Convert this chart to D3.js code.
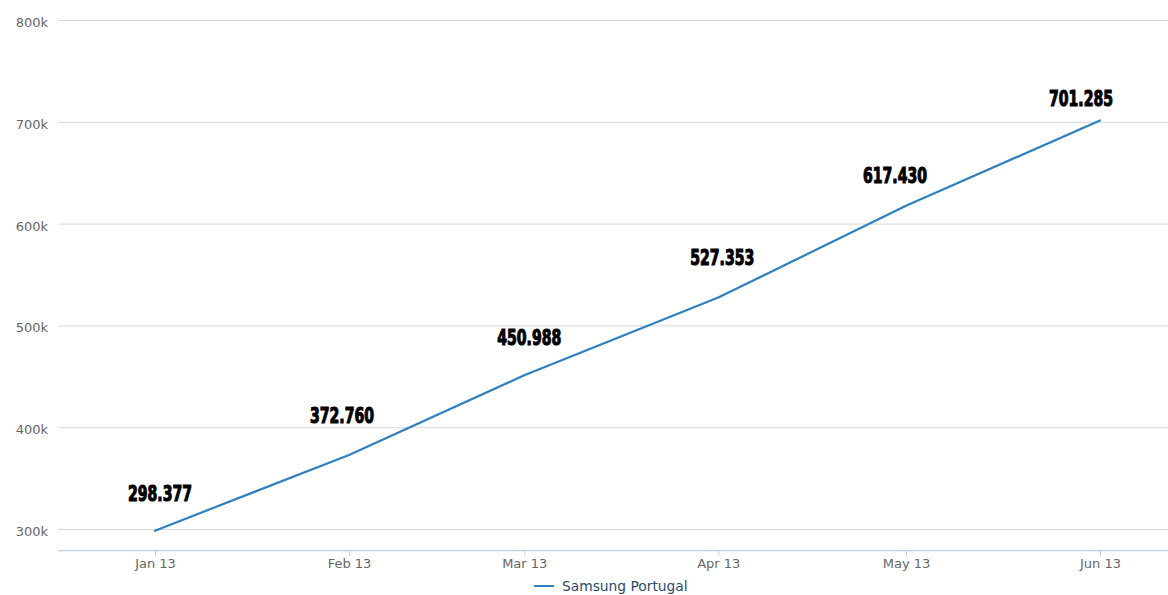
<!DOCTYPE html>
<html>
<head>
<meta charset="utf-8">
<script src="https://cdn.jsdelivr.net/npm/d3@7/dist/d3.min.js"></script>
<style>
  html, body { margin: 0; padding: 0; background: #fff; }
  svg { display: block; }
</style>
</head>
<body>
<svg id="chart" width="1168" height="595"></svg>
<script>
// Monthly totals, Samsung Portugal, first half of 2013
const months = ["2013-01-01", "2013-02-01", "2013-03-01", "2013-04-01", "2013-05-01", "2013-06-01"];
const values = [298377, 372760, 450988, 527353, 617430, 701285];
const valueLabels = ["298.377", "372.760", "450.988", "527.353", "617.430", "701.285"];
const yTicks = [300000, 400000, 500000, 600000, 700000, 800000];
const seriesName = "Samsung Portugal";

// label placement nudges (px) relative to each point
const labelDx = [5, -7, 5, 4, -11, -19];
const labelDy = [-37, -40, -38, -40, -30, -22];

const parse = d3.utcParse("%Y-%m-%d");
const dates = months.map(parse);
const points = dates.map((d, i) => ({ date: d, value: values[i], label: valueLabels[i], i }));

const svg = d3.select("#chart");
const plotLeft = 58, plotRight = 1168, plotTop = 20, plotBottom = 550.7;

const x = d3.scaleUtc()
  .domain([dates[0], dates[dates.length - 1]])
  .range([155, 1100]);

const y = d3.scaleLinear()
  .domain([278700, 800000])
  .range([plotBottom, plotTop]);

const lineColor = "#2f80bf";

// horizontal grid + y labels
const yAxis = d3.axisLeft(y)
  .tickValues(yTicks)
  .tickSize(-(plotRight - plotLeft))
  .tickPadding(10)
  .tickFormat(d => (d / 1000) + "k");

const gy = svg.append("g")
  .attr("transform", `translate(${plotLeft},0)`)
  .call(yAxis);
gy.select(".domain").remove();
gy.selectAll(".tick line").attr("stroke", "#d8d8d8").attr("stroke-width", 1);
gy.selectAll(".tick text")
  .attr("fill", "#666")
  .attr("font-family", "DejaVu Sans, sans-serif")
  .attr("font-size", 13)
  .attr("dy", "0.5em")
  .attr("x", -10);

// x axis
const xAxis = d3.axisBottom(x)
  .tickValues(dates)
  .tickSize(5)
  .tickPadding(3)
  .tickFormat(d3.utcFormat("%b %y"));

const gx = svg.append("g")
  .attr("transform", `translate(0,${plotBottom})`)
  .call(xAxis);
gx.select(".domain").remove();
gx.append("line")
  .attr("x1", plotLeft).attr("x2", plotRight)
  .attr("stroke", "#c0d0e0").attr("stroke-width", 1.2);
gx.selectAll(".tick line").attr("stroke", "#c0d0e0");
gx.selectAll(".tick text")
  .attr("fill", "#666")
  .attr("font-family", "DejaVu Sans, sans-serif")
  .attr("font-size", 13);

// series line
const line = d3.line()
  .x(d => x(d.date))
  .y(d => y(d.value));

svg.append("path")
  .datum(points)
  .attr("fill", "none")
  .attr("stroke", lineColor)
  .attr("stroke-width", 2.2)
  .attr("stroke-linejoin", "round")
  .attr("stroke-linecap", "round")
  .attr("d", line);

// value labels above each point, condensed heavy type
svg.append("g")
  .selectAll("text")
  .data(points)
  .join("text")
  .attr("transform", d => `translate(${x(d.date) + labelDx[d.i]},${y(d.value) + labelDy[d.i]}) scale(0.8,1.08)`)
  .attr("dy", "0.36em")
  .attr("text-anchor", "middle")
  .attr("font-family", "'DejaVu Sans Condensed', 'DejaVu Sans', sans-serif")
  .attr("font-weight", "bold")
  .attr("font-size", 19.5)
  .attr("fill", "#000")
  .attr("stroke", "#000")
  .attr("stroke-width", 1)
  .text(d => d.label);

// legend
const legend = svg.append("g").attr("transform", "translate(534,586)");
legend.append("line")
  .attr("x1", 0).attr("x2", 20)
  .attr("stroke", lineColor).attr("stroke-width", 2);
legend.append("text")
  .attr("x", 28).attr("y", 0)
  .attr("dy", "0.35em")
  .attr("font-family", "DejaVu Sans, sans-serif")
  .attr("font-size", 13.8)
  .attr("fill", "#274b6d")
  .text(seriesName);
</script>
</body>
</html>
